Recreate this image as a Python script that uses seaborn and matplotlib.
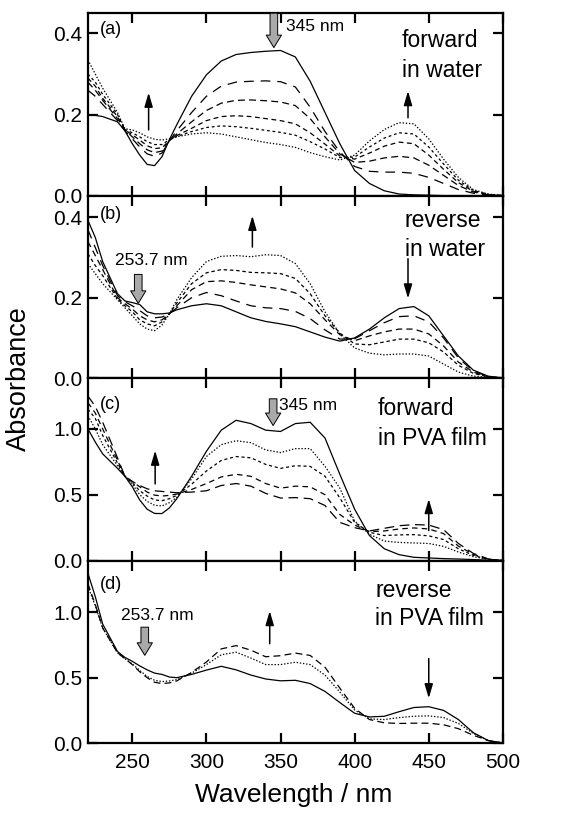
import matplotlib.pyplot as plt
import numpy as np
import pandas as pd
import seaborn as sns


sns.set_style("ticks")
plt.rcParams["font.family"] = ["Liberation Sans", "DejaVu Sans"]
plt.rcParams["lines.scale_dashes"] = False
plt.rcParams["text.color"] = "k"
plt.rcParams["axes.labelcolor"] = "k"

wavelength = [220, 225, 230, 240, 245, 250, 255, 260, 265, 270, 275, 280, 290,
              300, 310, 320, 330, 340, 350, 360, 370, 380, 390, 400, 410, 420,
              430, 440, 450, 460, 470, 480, 490, 500]

# (a) forward in water
a_solid = [0.200, 0.198, 0.195, 0.182, 0.160, 0.128, 0.100, 0.077, 0.074, 0.096, 0.138, 0.175, 0.245,
           0.298, 0.332, 0.348, 0.353, 0.356, 0.358, 0.342, 0.282, 0.205, 0.128, 0.062, 0.030, 0.012,
           0.004, 0.002, 0.001, 0.0, 0.0, 0.0, 0.0, 0.0]
a_long = [0.26, 0.245, 0.225, 0.185, 0.16, 0.14, 0.12, 0.103, 0.097, 0.105, 0.135, 0.16, 0.205,
          0.245, 0.27, 0.28, 0.282, 0.283, 0.281, 0.268, 0.218, 0.158, 0.108, 0.072, 0.06, 0.058,
          0.058, 0.055, 0.045, 0.03, 0.015, 0.006, 0.002, 0.0]
a_dash = [0.28, 0.26, 0.235, 0.19, 0.162, 0.145, 0.128, 0.113, 0.106, 0.11, 0.135, 0.152, 0.182,
          0.21, 0.228, 0.235, 0.236, 0.234, 0.231, 0.222, 0.19, 0.145, 0.103, 0.082, 0.085, 0.093,
          0.097, 0.093, 0.075, 0.05, 0.025, 0.009, 0.002, 0.0]
a_med = [0.29, 0.27, 0.24, 0.195, 0.162, 0.15, 0.137, 0.123, 0.116, 0.118, 0.136, 0.148, 0.166,
         0.185, 0.195, 0.197, 0.195, 0.19, 0.185, 0.177, 0.155, 0.127, 0.098, 0.09, 0.105, 0.122,
         0.132, 0.128, 0.1, 0.065, 0.032, 0.011, 0.003, 0.0]
a_fine = [0.30, 0.28, 0.25, 0.2, 0.163, 0.155, 0.145, 0.133, 0.126, 0.126, 0.138, 0.146, 0.158,
          0.168, 0.172, 0.17, 0.166, 0.161, 0.156, 0.149, 0.133, 0.115, 0.094, 0.095, 0.12, 0.142,
          0.155, 0.152, 0.12, 0.078, 0.038, 0.013, 0.003, 0.0]
a_dot = [0.335, 0.30, 0.265, 0.205, 0.165, 0.162, 0.155, 0.145, 0.139, 0.137, 0.14, 0.145, 0.152,
         0.155, 0.152, 0.145, 0.138, 0.131, 0.126, 0.119, 0.106, 0.096, 0.088, 0.1, 0.135, 0.163,
         0.18, 0.177, 0.14, 0.09, 0.045, 0.015, 0.004, 0.0]

# (b) reverse in water
b_solid = [0.393, 0.35, 0.29, 0.21, 0.192, 0.188, 0.183, 0.165, 0.16, 0.16, 0.162, 0.17, 0.18,
           0.185, 0.18, 0.165, 0.15, 0.141, 0.135, 0.128, 0.115, 0.102, 0.092, 0.1, 0.122, 0.15,
           0.173, 0.178, 0.155, 0.105, 0.055, 0.02, 0.005, 0.0]
b_long = [0.37, 0.325, 0.28, 0.205, 0.19, 0.18, 0.168, 0.155, 0.15, 0.152, 0.16, 0.175, 0.2,
          0.213, 0.205, 0.192, 0.18, 0.175, 0.173, 0.166, 0.148, 0.12, 0.097, 0.098, 0.118, 0.138,
          0.153, 0.155, 0.14, 0.1, 0.05, 0.018, 0.004, 0.0]
b_dash = [0.34, 0.305, 0.27, 0.2, 0.185, 0.172, 0.155, 0.145, 0.14, 0.145, 0.16, 0.18, 0.22,
          0.24, 0.242, 0.238, 0.232, 0.227, 0.222, 0.212, 0.185, 0.145, 0.108, 0.093, 0.105, 0.115,
          0.122, 0.122, 0.11, 0.08, 0.04, 0.015, 0.003, 0.0]
b_short = [0.31, 0.28, 0.255, 0.197, 0.18, 0.165, 0.145, 0.135, 0.13, 0.14, 0.16, 0.187, 0.235,
           0.262, 0.27, 0.268, 0.263, 0.262, 0.26, 0.248, 0.21, 0.155, 0.112, 0.085, 0.083, 0.09,
           0.097, 0.097, 0.088, 0.065, 0.032, 0.012, 0.003, 0.0]
b_dot = [0.285, 0.26, 0.235, 0.195, 0.175, 0.155, 0.135, 0.122, 0.118, 0.132, 0.16, 0.195, 0.25,
         0.29, 0.303, 0.305, 0.302, 0.307, 0.305, 0.285, 0.235, 0.165, 0.11, 0.075, 0.062, 0.058,
         0.06, 0.06, 0.055, 0.035, 0.015, 0.005, 0.002, 0.0]

# (c) forward in PVA film
c_solid = [1.0, 0.9, 0.81, 0.7, 0.64, 0.56, 0.46, 0.39, 0.358, 0.357, 0.4, 0.47, 0.64,
           0.83, 0.99, 1.065, 1.04, 0.99, 0.98, 1.04, 1.05, 0.93, 0.655, 0.39, 0.19, 0.09,
           0.045, 0.025, 0.02, 0.015, 0.012, 0.008, 0.003, 0.0]
c_dot = [1.1, 1.0, 0.88, 0.72, 0.64, 0.58, 0.5, 0.45, 0.42, 0.415, 0.44, 0.48, 0.62,
         0.79, 0.88, 0.91, 0.895, 0.84, 0.82, 0.85, 0.85, 0.716, 0.55, 0.3, 0.2, 0.148,
         0.138, 0.134, 0.13, 0.108, 0.065, 0.03, 0.008, 0.0]
c_short = [1.15, 1.08, 0.95, 0.74, 0.64, 0.59, 0.53, 0.49, 0.46, 0.455, 0.47, 0.495, 0.58,
           0.68, 0.76, 0.79, 0.78, 0.73, 0.7, 0.72, 0.715, 0.64, 0.476, 0.29, 0.215, 0.19,
           0.195, 0.197, 0.188, 0.16, 0.09, 0.04, 0.01, 0.0]
c_dash = [1.2, 1.12, 1.0, 0.76, 0.64, 0.6, 0.56, 0.52, 0.497, 0.49, 0.495, 0.505, 0.54,
          0.585, 0.635, 0.655, 0.64, 0.585, 0.55, 0.565, 0.56, 0.5, 0.35, 0.27, 0.22, 0.225,
          0.24, 0.248, 0.24, 0.205, 0.11, 0.048, 0.012, 0.0]
c_long = [1.25, 1.17, 1.05, 0.78, 0.64, 0.6, 0.57, 0.545, 0.53, 0.525, 0.52, 0.515, 0.52,
          0.53, 0.57, 0.585, 0.565, 0.51, 0.475, 0.478, 0.47, 0.418, 0.29, 0.25, 0.225, 0.245,
          0.265, 0.273, 0.27, 0.235, 0.13, 0.055, 0.013, 0.0]

# (d) reverse in PVA film
d_solid = [1.3, 1.12, 0.91, 0.7, 0.655, 0.625, 0.59, 0.56, 0.535, 0.525, 0.505, 0.5, 0.525,
           0.558, 0.587, 0.56, 0.52, 0.49, 0.476, 0.48, 0.455, 0.395, 0.31, 0.228, 0.2, 0.205,
           0.24, 0.272, 0.278, 0.25, 0.18, 0.08, 0.02, 0.0]
d_dash = [1.22, 1.06, 0.88, 0.69, 0.645, 0.6, 0.545, 0.5, 0.465, 0.455, 0.46, 0.475, 0.54,
          0.62, 0.72, 0.745, 0.71, 0.66, 0.668, 0.688, 0.67, 0.58, 0.42, 0.266, 0.18, 0.155,
          0.15, 0.152, 0.152, 0.14, 0.11, 0.06, 0.02, 0.0]
d_dot = [1.2, 1.05, 0.88, 0.69, 0.645, 0.605, 0.555, 0.51, 0.48, 0.47, 0.475, 0.485, 0.535,
         0.6, 0.675, 0.695, 0.65, 0.6, 0.6, 0.618, 0.6, 0.52, 0.39, 0.253, 0.185, 0.18,
         0.195, 0.205, 0.208, 0.195, 0.15, 0.075, 0.02, 0.0]

GREY = "#a9a9a9"


def draw_curves(ax, curves, dashes):
    df = pd.DataFrame({"Wavelength": wavelength, **curves}).melt(
        id_vars="Wavelength", var_name="curve", value_name="Absorbance")
    sns.lineplot(df, x="Wavelength", y="Absorbance", style="curve",
                 dashes=dashes, color="k", linewidth=0.9, legend=False, ax=ax)
    ax.set(xlabel="", ylabel="")


def up_down(ax, x, y0, y1):
    ax.annotate("", xy=(x, y1), xytext=(x, y0),
                arrowprops=dict(arrowstyle="-|>,head_length=0.85,head_width=0.25",
                                color="k", lw=1.1, shrinkA=0, shrinkB=0,
                                mutation_scale=10))


def grey_arrow(ax, x, y0, y1):
    ax.annotate("", xy=(x, y1), xytext=(x, y0),
                arrowprops=dict(arrowstyle="simple,head_length=0.9,head_width=1.1,tail_width=0.55",
                                fc=GREY, ec="k", lw=0.7, shrinkA=0, shrinkB=0,
                                mutation_scale=10))


fig = plt.figure(figsize=(5.78, 8.22), dpi=100)
axes = fig.subplots(4, 1, sharex=True, gridspec_kw=dict(hspace=0))
fig.subplots_adjust(left=0.152, right=0.870, top=0.984, bottom=0.096)
ax_a, ax_b, ax_c, ax_d = axes

draw_curves(ax_a, {"s": a_solid, "l": a_long, "d": a_dash, "m": a_med, "f": a_fine, "p": a_dot},
            {"s": "", "l": (7, 5), "d": (5, 3), "m": (3.5, 2.5), "f": (2, 2), "p": (1, 1.3)})
draw_curves(ax_b, {"s": b_solid, "l": b_long, "d": b_dash, "f": b_short, "p": b_dot},
            {"s": "", "l": (7, 5), "d": (4.5, 3), "f": (2.5, 2), "p": (1, 1.3)})
draw_curves(ax_c, {"s": c_solid, "p": c_dot, "f": c_short, "d": c_dash, "l": c_long},
            {"s": "", "p": (1, 1.3), "f": (2.2, 2), "d": (4, 3), "l": (7, 4)})
draw_curves(ax_d, {"s": d_solid, "d": d_dash, "p": d_dot},
            {"s": "", "d": (5, 3), "p": (1, 1.3)})

for ax, top, ticks, labels in [
    (ax_a, 0.45, [0, 0.2, 0.4], ["0.0", "0.2", "0.4"]),
    (ax_b, 0.454, [0, 0.2, 0.4], ["0.0", "0.2", "0.4"]),
    (ax_c, 1.385, [0, 0.5, 1.0], ["0.0", "0.5", "1.0"]),
    (ax_d, 1.395, [0, 0.5, 1.0], ["0.0", "0.5", "1.0"]),
]:
    ax.set_ylim(0, top)
    ax.set_yticks(ticks, labels)
    ax.set_xlim(220, 500)
    ax.set_xticks([250, 300, 350, 400, 450, 500])
    ax.tick_params(direction="in", top=True, right=True, length=7, width=1.6,
                   labelsize=15, pad=4, color="k", labelcolor="k")
    for sp in ax.spines.values():
        sp.set_linewidth(1.6)
        sp.set_color("k")
        sp.set_visible(True)

ax_d.tick_params(axis="x", pad=7)

letter_kw = dict(ha="left", va="center", fontsize=13, color="k")
label_kw = dict(ha="left", va="center", fontsize=16.5, color="k")
nm_kw = dict(va="center", fontsize=12.5, color="k")

# (a)
ax_a.text(0.029, 0.91, "(a)", transform=ax_a.transAxes, **letter_kw)
ax_a.text(0.757, 0.85, "forward", transform=ax_a.transAxes, **label_kw)
ax_a.text(0.757, 0.683, "in water", transform=ax_a.transAxes, **label_kw)
grey_arrow(ax_a, 345.5, 0.45, 0.365)
ax_a.text(354, 0.418, "345 nm", ha="left", **nm_kw)
up_down(ax_a, 261, 0.162, 0.254)
up_down(ax_a, 436, 0.192, 0.258)

# (b)
ax_b.text(0.029, 0.897, "(b)", transform=ax_b.transAxes, **letter_kw)
ax_b.text(0.764, 0.864, "reverse", transform=ax_b.transAxes, **label_kw)
ax_b.text(0.764, 0.707, "in water", transform=ax_b.transAxes, **label_kw)
grey_arrow(ax_b, 254, 0.258, 0.186)
ax_b.text(263, 0.293, "253.7 nm", ha="center", **nm_kw)
up_down(ax_b, 331, 0.326, 0.404)
up_down(ax_b, 436, 0.297, 0.198)

# (c)
ax_c.text(0.029, 0.855, "(c)", transform=ax_c.transAxes, **letter_kw)
ax_c.text(0.699, 0.836, "forward", transform=ax_c.transAxes, **label_kw)
ax_c.text(0.699, 0.667, "in PVA film", transform=ax_c.transAxes, **label_kw)
grey_arrow(ax_c, 345, 1.228, 1.025)
ax_c.text(349, 1.18, "345 nm", ha="left", **nm_kw)
up_down(ax_c, 265.4, 0.582, 0.835)
up_down(ax_c, 450, 0.228, 0.468)

# (d)
ax_d.text(0.029, 0.87, "(d)", transform=ax_d.transAxes, **letter_kw)
ax_d.text(0.692, 0.836, "reverse", transform=ax_d.transAxes, **label_kw)
ax_d.text(0.692, 0.683, "in PVA film", transform=ax_d.transAxes, **label_kw)
grey_arrow(ax_d, 258.4, 0.886, 0.671)
ax_d.text(267, 0.975, "253.7 nm", ha="center", **nm_kw)
up_down(ax_d, 342.7, 0.76, 1.01)
up_down(ax_d, 450, 0.646, 0.342)

fig.text(0.033, 0.539, "Absorbance", rotation=90, ha="center", va="center",
         fontsize=19.5, color="k")
fig.text(0.508, 0.033, "Wavelength / nm", ha="center", va="center",
         fontsize=19, color="k")

fig.savefig("out.png", dpi=100)
